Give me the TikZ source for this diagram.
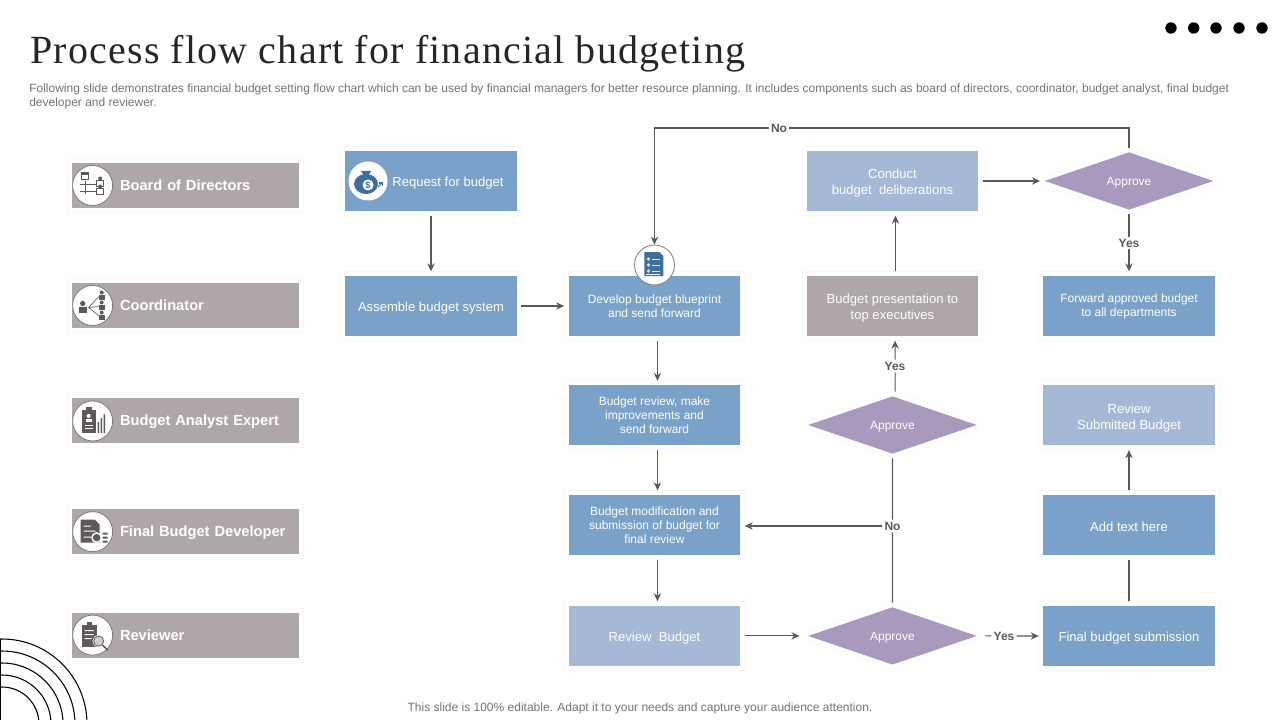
\documentclass[tikz,border=0pt]{standalone}
\usepackage{fontspec}
\setmainfont{Liberation Sans}
\newfontfamily\headfont[LetterSpace=3]{Liberation Serif}
\usetikzlibrary{shapes.geometric, arrows.meta, positioning}

\definecolor{boxblue}{HTML}{7AA1C7}
\definecolor{paleblue}{HTML}{A5B8D6}
\definecolor{lilac}{HTML}{A99ABD}
\definecolor{stone}{HTML}{AEA6A9}
\definecolor{wire}{HTML}{595959}
\definecolor{inkgrey}{HTML}{5E5A5C}
\definecolor{iconblue}{HTML}{3F6F9F}
\definecolor{haloline}{HTML}{F9F7F7}

\newcommand{\lowline}{\rule{0pt}{10.5pt}}

\begin{document}
\begin{tikzpicture}[
    x=0.75pt, y=-0.75pt,
    on grid,
    halo/.style = {preaction={draw=haloline, line width=7.5pt, miter limit=2}, preaction={draw=white, line width=6pt, miter limit=2}},
    flowbox/.style = {rectangle, halo, align=center, minimum width=128.5pt, minimum height=45pt, inner sep=0pt, outer sep=3.5pt, font = \fontsize{9}{10.5}\selectfont, text=white, fill=boxblue},
    palebox/.style = {flowbox, fill=paleblue},
    stonebox/.style = {flowbox, fill=stone},
    widetext/.style = {font = \fontsize{9.8}{12}\selectfont},
    decision/.style = {diamond, halo, minimum width=128.5pt, minimum height=45pt, inner sep=0pt, outer sep=2.5pt, font = \fontsize{9}{10.5}\selectfont, text=white, fill=lilac, text height=9pt, text depth=2pt},
    lane/.style = {rectangle, halo, align=left, text width=170.25pt, minimum height=33.75pt, inner sep=0pt, font = \fontsize{11}{13}\selectfont\bfseries, text=white, fill=stone, text height=10pt, text depth=2.5pt},
    iconring/.style = {circle, draw=inkgrey!80, line width=0.6pt, fill=white, minimum size=30pt, inner sep=0pt},
    answer/.style = {font = \fontsize{9}{11}\selectfont\bfseries, text=wire, fill=white, inner sep=1.5pt},
    link/.style = {draw=wire, line width=0.8pt},
    >={Stealth[length=6pt, width=5.5pt]}]

    \useasboundingbox (0,0) rectangle (1280,720);

    % heading
    \node[anchor=west, inner sep=0pt, font=\fontsize{30}{33}\selectfont\headfont, text=black!85] (title) at (30,54) {Process flow chart for financial budgeting};
    \node[anchor=north west, inner sep=0pt, align=left, font=\fontsize{9}{10.5}\selectfont, text=black!55] (intro) at (29,84) {Following slide demonstrates financial budget setting flow chart which can be used by financial managers for better resource planning. It includes components such as board of directors, coordinator, budget analyst, final budget\\developer and reviewer.};
    \node[inner sep=0pt, font=\fontsize{9}{11}\selectfont, text=black!55] (foot) at (640,708) {This slide is 100\% editable. Adapt it to your needs and capture your audience attention.};

    % dots and rings
    \foreach \dotx in {1171,1193.7,1216,1239,1262}
        \fill (\dotx,28) circle (5.7);
    \begin{scope}
        \clip (0,0) rectangle (1280,720);
        \foreach \ringr in {37,49,61,73,85}
            \draw[line width=0.8pt] (2,724) circle (\ringr);
        \draw[line width=0.8pt] (0.5,639) -- (0.5,720);
    \end{scope}

    % roles
    \node[lane] (board) at (185.5,185.5) {\hspace*{36pt}Board of Directors};
    \node[lane, below=90pt of board] (coord) {\hspace*{36pt}Coordinator};
    \node[lane, below=86.6pt of coord] (analyst) {\hspace*{36pt}Budget Analyst Expert};
    \node[lane, below=83pt of analyst] (developer) {\hspace*{36pt}Final Budget Developer};
    \node[lane, below=77.6pt of developer] (reviewer) {\hspace*{36pt}Reviewer};

    \node[iconring, right=0.4pt of board.west] (iboard) {};
    \node[iconring, right=0.4pt of coord.west] (icoord) {};
    \node[iconring, right=0.4pt of analyst.west] (ianalyst) {};
    \node[iconring, right=0.4pt of developer.west] (ideveloper) {};
    \node[iconring, right=0.4pt of reviewer.west] (ireviewer) {};

    % flow boxes
    \node[flowbox, widetext] (request) at (431,181) {\lowline\hspace*{25.5pt}Request\ for\ budget};
    \node[flowbox, widetext, below=93.75pt of request] (assemble) {\lowline Assemble\ budget\ system};
    \node[flowbox, right=167.6pt of assemble] (blueprint) {Develop budget blueprint\\and send forward};
    \node[flowbox, below=82.1pt of blueprint] (improve) {Budget review, make\\improvements and\\send forward};
    \node[flowbox, below=82.1pt of improve] (modify) {Budget modification and\\submission of budget for\\final review};
    \node[palebox, widetext, below=83.25pt of modify] (revbudget) {\lowline Review\ \ Budget};
    \node[decision, right=178.5pt of revbudget] (okbottom) {Approve};
    \node[flowbox, widetext, right=177.4pt of okbottom] (submission) {\lowline Final budget submission};
    \node[flowbox, widetext, above=83.25pt of submission] (addtext) {\lowline Add text here};
    \node[palebox, widetext, above=82.1pt of addtext] (submitted) {\lowline Review\\Submitted Budget};
    \node[flowbox, above=82.1pt of submitted] (forward) {Forward approved budget\\to all departments};
    \node[decision, above=93.75pt of forward] (oktop) {Approve};
    \node[stonebox, widetext, left=177.4pt of forward] (present) {\lowline Budget presentation to\\top executives};
    \node[palebox, widetext, above=93.75pt of present] (conduct) {\lowline Conduct\\budget\ \ deliberations};
    \node[decision, below=89.25pt of present] (okmiddle) {Approve};

    \node[iconring, draw=none, minimum size=29.25pt, right=5.6pt of request.west] (ibag) {};
    \node[iconring, above=30.75pt of blueprint] (idoc) {};

    % answers
    \node[answer] (notop) at (779,128) {No};
    \node[answer] (nomiddle) at (892.5,526) {No};
    \node[answer] (yesmiddle) at (895,366) {Yes};
    \node[answer] (yestop) at (1129,243) {Yes};
    \node[answer] (yesbottom) at (1004,636) {Yes};

    \draw[link, ->] (request) -- (assemble);
    \draw[link, ->] (assemble) -- (blueprint);
    \draw[link, ->] ([xshift=2.25pt]blueprint.south) -- ([xshift=2.25pt]improve.north);
    \draw[link, ->] ([xshift=2.25pt]improve.south) -- ([xshift=2.25pt]modify.north);
    \draw[link, ->] ([xshift=2.25pt]modify.south) -- ([xshift=2.25pt]revbudget.north);
    \draw[link, ->] (revbudget) -- ([xshift=-3pt]okbottom.west);
    \draw[link] ([xshift=3pt]okbottom.east) -- (yesbottom);
    \draw[link, ->] (yesbottom) -- (submission);
    \draw[link] (submission) -- (addtext);
    \draw[link, ->] (addtext) -- (submitted);
    \draw[link] (okbottom.north) -- (nomiddle);
    \draw[link] (nomiddle) -- (okmiddle.south);
    \draw[link, ->] (nomiddle) -- (nomiddle -| modify.east);
    \draw[link] ([xshift=2pt]okmiddle.north) -- (yesmiddle);
    \draw[link, ->] (yesmiddle) -- ([xshift=2pt]present.south);
    \draw[link, ->] ([xshift=2.25pt]present.north) -- ([xshift=2.25pt]conduct.south);
    \draw[link, ->] (conduct) -- (oktop);
    \draw[link] (oktop) -- (yestop);
    \draw[link, ->] (yestop) -- (forward);
    \draw[link] (oktop.north) |- (notop);
    \draw[link, ->] (notop) -| (idoc.north);

    % role icons
    \begin{scope}[shift={(iboard.center)}, draw=inkgrey, fill=inkgrey, line width=0.5pt]
        \draw (-7,-4) -- (-7,9) (-13,-1) -- (4,-1) (-13,6) -- (4,6);
        \draw[fill=white] (-11,-13) rectangle (-4,-6);
        \fill (-11,-13) rectangle (-4,-10);
        \draw[fill=white] (4,-5) rectangle (11,1);
        \draw[fill=white] (4,3) rectangle (11,9);
        \fill (7.5,-7) circle (2) (7.5,1) circle (2);
    \end{scope}
    \begin{scope}[shift={(icoord.center)}, draw=inkgrey, fill=inkgrey, line width=0.5pt]
        \fill (-10,-2) circle (2.6);
        \fill (-14,7) rectangle (-6,1);
        \draw (-4,2) -- (6,-9) (-4,2) -- (6,1) (-4,2) -- (6,10);
        \foreach \peeky in {-13,-3,7} {
            \fill (9,\peeky) circle (2);
            \fill (6,\peeky+7) rectangle (12,\peeky+2);
        }
    \end{scope}
    \begin{scope}[shift={(ianalyst.center)}, fill=inkgrey]
        \fill (-11,-11) rectangle (3,12);
        \fill (-7,-14) rectangle (-1,-10);
        \fill[white] (-4,-5) circle (2);
        \fill[white] (-7,1) rectangle (-1,-2);
        \fill[white] (-8,4) rectangle (0,5);
        \fill[white] (-8,7) rectangle (0,8);
        \fill (5,1) rectangle (6.5,12) (8,-3) rectangle (9.5,12) (11,-7) rectangle (12.5,12);
    \end{scope}
    \begin{scope}[shift={(ideveloper.center)}, fill=inkgrey]
        \fill (-12,-12) -- (2,-12) -- (7,-7) -- (7,11) -- (-12,11) -- cycle;
        \fill[white] (-9,-6) rectangle (-2,-5) (-9,-1) rectangle (3,0) (-9,5) rectangle (-1,6);
        \fill[white] (4,6) circle (5.5);
        \fill (4,6) circle (3.8);
        \fill (10,1) rectangle (15,3) (10,5) rectangle (15,7) (10,9) rectangle (15,11);
    \end{scope}
    \begin{scope}[shift={(ireviewer.center)}, fill=inkgrey]
        \fill (-11,-10) rectangle (4,12);
        \fill (-6,-13) rectangle (-1,-9);
        \fill[white] (-8,-5) rectangle (1,-4) (-8,-1) rectangle (1,0) (-8,3) rectangle (-1,4);
        \draw[draw=white, fill=white!70!inkgrey, line width=1pt] (6,6) circle (5.5);
        \draw[draw=inkgrey, line width=0.6pt] (6,6) circle (5);
        \draw[draw=inkgrey, line width=1.2pt] (10,10) -- (15,15);
    \end{scope}

    % flow icons
    \begin{scope}[shift={(ibag.center)}, fill=iconblue]
        \fill (-7,-10) -- (3,-10) -- (0,-5) -- (-4,-5) -- cycle;
        \fill (-2,3) ellipse (12 and 10);
        \fill[white] (0,4) circle (5.5);
        \node[inner sep=0pt, text=iconblue, font=\fontsize{7}{7}\selectfont\bfseries] (dollar) at (0,4) {\$};
        \draw[draw=iconblue, line width=0.8pt] (10,6) -- (14,2);
        \draw[draw=iconblue, line width=0.8pt] (11,2) -- (14,2) -- (14,5);
    \end{scope}
    \begin{scope}[shift={(idoc.center)}, fill=iconblue]
        \fill (-10,-13) -- (5,-13) -- (9,-9) -- (9,11) -- (-10,11) -- cycle;
        \foreach \rowy in {-6,0,6} {
            \fill[white!75!iconblue] (-6,\rowy) circle (1.8);
            \fill[white!85!iconblue] (-2,\rowy-0.5) rectangle (6,\rowy+0.5);
        }
        \fill[white] (-8,9) rectangle (6,10);
    \end{scope}
\end{tikzpicture}
\end{document}
